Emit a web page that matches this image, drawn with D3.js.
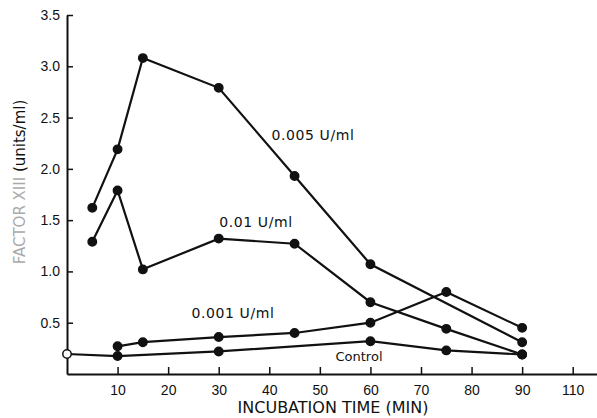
<!DOCTYPE html>
<html>
<head>
<meta charset="utf-8">
<script src="https://cdn.jsdelivr.net/npm/d3@7"></script>
<style>
  body { margin: 0; background: #fff; }
  svg { display: block; font-family: "DejaVu Sans", sans-serif; }
</style>
</head>
<body>
<svg id="chart" width="597" height="418"></svg>
<script>
// values (time in min, factor XIII in units/ml)
const timeHigh = [5, 10, 15, 30, 45, 60, 90];
const doseHigh = [1.62, 2.19, 3.08, 2.79, 1.93, 1.07, 0.31];   // 0.005 U/ml

const timeMid = [5, 10, 15, 30, 45, 60, 75, 90];
const doseMid = [1.29, 1.79, 1.02, 1.32, 1.27, 0.70, 0.44, 0.19]; // 0.01 U/ml

const timeLow = [10, 15, 30, 45, 60, 75, 90];
const doseLow = [0.27, 0.31, 0.36, 0.40, 0.50, 0.80, 0.45];    // 0.001 U/ml

const timeCtrl = [0, 10, 30, 60, 75, 90];
const doseCtrl = [0.195, 0.175, 0.22, 0.32, 0.23, 0.19];       // control

const xTickValues = [10, 20, 30, 40, 50, 60, 70, 80, 90, 100];
const xTickLabels = ["10", "20", "30", "40", "50", "60", "70", "80", "90", "110"];
const yTickValues = [0.5, 1.0, 1.5, 2.0, 2.5, 3.0, 3.5];

const seriesNames = ["0.005 U/ml", "0.01 U/ml", "0.001 U/ml", "Control"];

const svg = d3.select("#chart");
const ink = "#111";

const x = d3.scaleLinear().domain([0, 105]).range([67, 598]);
const y = d3.scaleLinear().domain([0, 3.5]).range([374, 15]);

// x axis, ticks pointing up into the plot
const xAxis = svg.append("g")
    .attr("transform", `translate(0,${y(0)})`)
    .call(d3.axisBottom(x)
        .tickValues(xTickValues)
        .tickFormat((d, i) => xTickLabels[i])
        .tickSizeInner(-7)
        .tickSizeOuter(0)
        .tickPadding(8));

// y axis, ticks pointing right
const yAxis = svg.append("g")
    .attr("transform", `translate(${x(0)},0)`)
    .call(d3.axisLeft(y)
        .tickValues(yTickValues)
        .tickFormat(d3.format(".1f"))
        .tickSizeInner(-6)
        .tickSizeOuter(0)
        .tickPadding(7));

svg.selectAll(".domain").attr("stroke", ink).attr("stroke-width", 2);
svg.selectAll(".tick line").attr("stroke", ink).attr("stroke-width", 1.5);
svg.selectAll(".tick text").attr("fill", ink).attr("font-size", 14);
xAxis.selectAll(".tick text").attr("dy", "0.9em");

// axis titles
svg.append("text")
    .attr("x", 333).attr("y", 413)
    .attr("text-anchor", "middle")
    .attr("font-size", 16)
    .attr("fill", ink)
    .text("INCUBATION TIME (MIN)");

const yTitle = svg.append("text")
    .attr("transform", "translate(25,182) rotate(-90)")
    .attr("text-anchor", "middle")
    .attr("font-size", 15)
    .attr("fill", ink);
yTitle.append("tspan").attr("fill", "#aaa").text("FACTOR XIII ");
yTitle.append("tspan").text("(units/ml)");

// series
const series = [
    { t: timeHigh, v: doseHigh },
    { t: timeMid, v: doseMid },
    { t: timeLow, v: doseLow },
    { t: timeCtrl, v: doseCtrl }
];

const line = d3.line()
    .x(d => x(d[0]))
    .y(d => y(d[1]));

series.forEach(s => {
    const pts = d3.zip(s.t, s.v);
    svg.append("path")
        .datum(pts)
        .attr("fill", "none")
        .attr("stroke", ink)
        .attr("stroke-width", 2.2)
        .attr("d", line);
    svg.append("g").selectAll("circle")
        .data(pts)
        .join("circle")
        .attr("cx", d => x(d[0]))
        .attr("cy", d => y(d[1]))
        .attr("r", 4.2)
        .attr("fill", d => d[0] === 0 ? "#fff" : ink)
        .attr("stroke", ink)
        .attr("stroke-width", 1.5);
});

// series labels placed where the figure has them
const labelSpots = [[313, 140], [256, 227], [233, 318], [359, 361]];
svg.append("g").selectAll("text")
    .data(seriesNames)
    .join("text")
    .attr("x", (d, i) => labelSpots[i][0])
    .attr("y", (d, i) => labelSpots[i][1])
    .attr("text-anchor", "middle")
    .attr("font-size", (d, i) => i === 3 ? 13 : 14)
    .attr("letter-spacing", (d, i) => i === 3 ? 0 : 0.6)
    .attr("fill", ink)
    .text(d => d);
</script>
</body>
</html>
